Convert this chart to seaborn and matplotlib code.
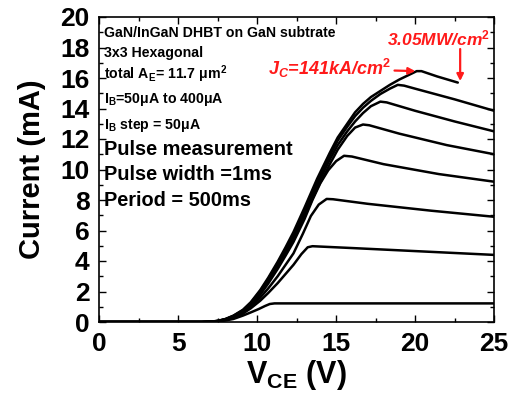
import matplotlib
matplotlib.use("Agg")
import matplotlib.pyplot as plt
from matplotlib.ticker import MultipleLocator
import pandas as pd
import seaborn as sns

# Collector current (mA) vs V_CE (V) for base currents 50-400 uA
vce_50 = [0, 6.5, 7.0, 7.5, 8.0, 8.5, 9.1, 9.6, 10.1, 10.5, 10.8, 11.1, 25]
ic_50 = [0, 0, 0.01, 0.04, 0.1, 0.2, 0.42, 0.63, 0.85, 1.05, 1.18, 1.22, 1.22]

vce_100 = [0, 6.5, 7.0, 7.5, 8.0, 8.5, 9.1, 9.6, 10.2, 10.7, 11.3, 11.8, 12.3, 12.8, 13.2,
           13.5, 16.0, 20.0, 25]
ic_100 = [0, 0, 0.02, 0.05, 0.14, 0.28, 0.55, 0.9, 1.4, 1.9, 2.55, 3.15, 3.75, 4.45, 4.9,
          4.97, 4.85, 4.65, 4.4]

vce_150 = [0, 6.5, 7.0, 7.5, 8.0, 8.5, 9.1, 9.6, 10.2, 10.7, 11.3, 11.8, 12.3, 12.9, 13.4,
           13.9, 14.4, 14.8, 17.0, 21.0, 25]
ic_150 = [0, 0, 0.02, 0.05, 0.15, 0.31, 0.6, 0.98, 1.6, 2.2, 3.0, 3.75, 4.5, 5.8, 6.95,
          7.7, 8.07, 8.05, 7.75, 7.3, 6.9]

vce_200 = [0, 6.5, 7.0, 7.5, 8.0, 8.5, 9.1, 9.6, 10.2, 10.7, 11.3, 11.8, 12.3, 13.0, 13.5,
           14.0, 14.5, 15.0, 15.5, 16.0, 18.0, 21.5, 25]
ic_200 = [0, 0, 0.02, 0.06, 0.16, 0.34, 0.67, 1.1, 1.8, 2.52, 3.48, 4.35, 5.25, 6.75, 8.0,
          9.1, 9.95, 10.55, 10.9, 10.85, 10.35, 9.7, 9.2]

vce_250 = [0, 6.5, 7.0, 7.5, 8.0, 8.5, 9.1, 9.6, 10.2, 10.7, 11.3, 11.8, 12.3, 13.0, 13.8,
           14.6, 15.1, 15.7, 16.2, 16.7, 17.1, 19.0, 22.0, 25]
ic_250 = [0, 0, 0.02, 0.06, 0.17, 0.36, 0.71, 1.15, 1.9, 2.65, 3.63, 4.52, 5.45, 6.95, 8.75,
          10.35, 11.3, 12.2, 12.75, 12.95, 12.9, 12.35, 11.6, 11.0]

vce_300 = [0, 6.5, 7.0, 7.5, 8.0, 8.5, 9.1, 9.6, 10.2, 10.7, 11.3, 11.8, 12.3, 13.0, 13.8,
           14.6, 15.1, 15.7, 16.2, 16.7, 17.2, 17.8, 18.2, 20.0, 22.5, 25]
ic_300 = [0, 0, 0.02, 0.06, 0.18, 0.38, 0.74, 1.2, 1.96, 2.74, 3.75, 4.66, 5.6, 7.15, 9.0,
          10.65, 11.6, 12.5, 13.15, 13.7, 14.15, 14.45, 14.4, 13.85, 13.15, 12.5]

vce_350 = [0, 6.5, 7.0, 7.5, 8.0, 8.5, 9.1, 9.6, 10.2, 10.7, 11.3, 11.8, 12.3, 13.0, 13.8,
           14.6, 15.1, 15.7, 16.2, 16.7, 17.2, 17.8, 18.4, 18.9, 19.3, 20.0, 22.5, 25]
ic_350 = [0, 0, 0.02, 0.07, 0.19, 0.4, 0.77, 1.25, 2.03, 2.82, 3.85, 4.78, 5.75, 7.3, 9.2,
          10.9, 11.9, 12.8, 13.5, 14.05, 14.5, 14.95, 15.3, 15.55, 15.5, 15.3, 14.6, 13.85]

vce_400 = [0, 6.5, 7.0, 7.5, 8.0, 8.5, 9.1, 9.6, 10.2, 10.7, 11.3, 11.8, 12.3, 13.0, 13.8,
           14.6, 15.1, 15.7, 16.2, 16.7, 17.2, 17.8, 18.4, 19.0, 19.6, 20.1, 20.4, 21.4, 22.7]
ic_400 = [0, 0, 0.02, 0.07, 0.2, 0.42, 0.8, 1.3, 2.1, 2.9, 3.95, 4.9, 5.9, 7.5, 9.4,
          11.1, 12.1, 13.0, 13.75, 14.3, 14.75, 15.15, 15.55, 15.9, 16.2, 16.45, 16.45,
          16.1, 15.7]

ib_steps = [50, 100, 150, 200, 250, 300, 350, 400]
vce_all = [vce_50, vce_100, vce_150, vce_200, vce_250, vce_300, vce_350, vce_400]
ic_all = [ic_50, ic_100, ic_150, ic_200, ic_250, ic_300, ic_350, ic_400]

frames = []
for ib, v, i in zip(ib_steps, vce_all, ic_all):
    frames.append(pd.DataFrame({"VCE": v, "IC": i, "IB": ib}))
df = pd.concat(frames, ignore_index=True)

sns.set_theme(style="ticks")
plt.rcParams["font.family"] = ["Liberation Sans", "DejaVu Sans"]
plt.rcParams["font.weight"] = "bold"
plt.rcParams["text.color"] = "black"
plt.rcParams["axes.labelcolor"] = "black"
plt.rcParams["xtick.color"] = "black"
plt.rcParams["ytick.color"] = "black"
plt.rcParams["mathtext.fontset"] = "custom"
plt.rcParams["mathtext.rm"] = "Liberation Sans:bold"
plt.rcParams["mathtext.bf"] = "Liberation Sans:bold"
plt.rcParams["mathtext.it"] = "Liberation Sans:italic:bold"
plt.rcParams["mathtext.bfit"] = "Liberation Sans:italic:bold"
plt.rcParams["mathtext.default"] = "rm"

fig = plt.figure(figsize=(5.11, 4.0), dpi=100)
ax = fig.add_axes([0.194, 0.195, 0.773, 0.7625])

sns.lineplot(data=df, x="VCE", y="IC", hue="IB", units="IB", estimator=None,
             sort=False, palette=["black"] * len(ib_steps), legend=False,
             linewidth=1.8, ax=ax)

ax.set_xlim(0, 25)
ax.set_ylim(0, 20)
ax.xaxis.set_major_locator(MultipleLocator(5))
ax.xaxis.set_minor_locator(MultipleLocator(2.5))
ax.yaxis.set_major_locator(MultipleLocator(2))
ax.yaxis.set_minor_locator(MultipleLocator(1))
ax.tick_params(which="both", direction="in", top=True, right=True,
               labelsize=19, width=1.0, colors="black")
ax.tick_params(which="major", length=5, pad=7)
ax.tick_params(which="minor", length=3)
for s in ax.spines.values():
    s.set_linewidth(1.2)
    s.set_color("black")

ax.set_xlabel(r"V$_{\mathrm{CE}}$ (V)", fontsize=22, fontweight="bold", labelpad=2)
ax.set_ylabel("Current (mA)", fontsize=21, fontweight="bold", labelpad=10)

# Device description
small = [("GaN/InGaN DHBT on GaN subtrate", 33),
         ("3x3 Hexagonal", 53),
         (r"total A$_{\mathrm{E}}$= 11.7 μm$^{2}$", 74),
         (r"I$_{\mathrm{B}}$=50μA to 400μA", 99),
         (r"I$_{\mathrm{B}}$ step = 50μA", 125)]
for txt, ypx in small:
    fig.text(104 / 511, 1 - ypx / 400, txt, fontsize=10.2, fontweight="bold",
             va="center", ha="left", color="black")
big = [("Pulse measurement", 149), ("Pulse width =1ms", 175), ("Period = 500ms", 200)]
for txt, ypx in big:
    fig.text(104 / 511, 1 - ypx / 400, txt, fontsize=14.4, fontweight="bold",
             va="center", ha="left", color="black")

# Peak current density and power density callouts
red = "#ff1a1a"
ax.annotate(r"$\mathbfit{J}_{\mathbfit{C}}$=141kA/cm$^{2}$", xy=(vce_400[25], ic_400[25]),
            xytext=(10.7, 16.6), textcoords="data",
            fontsize=13, fontweight="bold", fontstyle="italic", color=red,
            va="center", ha="left",
            arrowprops=dict(arrowstyle="-|>", color=red, lw=1.6,
                            mutation_scale=10, shrinkA=0, shrinkB=1))
ax.annotate(r"3.05MW/cm$^{2}$", xy=(vce_400[-1], ic_400[-1]),
            xytext=(18.2, 18.6), textcoords="data",
            fontsize=12.5, fontweight="bold", fontstyle="italic", color=red,
            va="center", ha="left")
ax.annotate("", xy=(vce_400[-1] + 0.15, ic_400[-1] + 0.1),
            xytext=(vce_400[-1] + 0.15, 17.9),
            arrowprops=dict(arrowstyle="-|>", color=red, lw=1.6,
                            mutation_scale=10, shrinkA=0, shrinkB=0))

fig.savefig("out.png", dpi=100)
